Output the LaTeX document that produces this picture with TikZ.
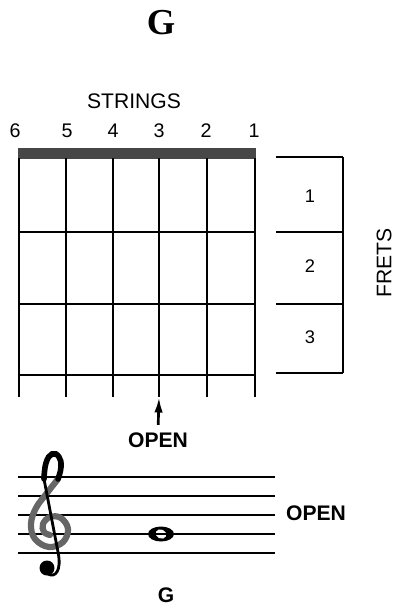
\documentclass[tikz,border=0pt]{standalone}
\usepackage{fontspec}
\setmainfont{Liberation Sans}
\newfontfamily\titlefont{Liberation Serif}
\usetikzlibrary{arrows.meta}

\begin{document}
\begin{tikzpicture}[x=0.025cm, y=-0.025cm, line width=0.9pt,
    numlabel/.style={font=\fontsize{14}{16}\selectfont, inner sep=0pt},
    boldlabel/.style={font=\fontsize{15}{17}\selectfont\bfseries, inner sep=0pt}]
    \useasboundingbox (0,0) rectangle (402,608);

    % Chord name
    \node (title) at (161,23) {\titlefont\fontsize{26}{28}\selectfont\bfseries G};

    % String numbers
    \node[numlabel, font=\fontsize{15}{17}\selectfont] (strings) at (134,101) {STRINGS};
    \foreach \n/\x in {6/15,5/67,4/113,3/159,2/206,1/254} {
        \node[numlabel] (num\n) at (\x,131) {\n};
    }

    % Fretboard
    \fill[black!72] (18,148) rectangle (256,159);
    \foreach \x in {19,66,113,159,207,255} {
        \draw (\x,158) -- (\x,397);
    }
    \foreach \y in {232,304,375} {
        \draw (19,\y) -- (255,\y);
    }

    % Fret numbers
    \foreach \y in {157,232,304,373} {
        \draw (276,\y) -- (343,\y);
    }
    \draw (343,157) -- (343,373);
    \node[numlabel, font=\fontsize{13}{15}\selectfont] (fret1) at (310,196) {1};
    \node[numlabel, font=\fontsize{13}{15}\selectfont] (fret2) at (310,266) {2};
    \node[numlabel, font=\fontsize{13}{15}\selectfont] (fret3) at (310,337) {3};
    \node[numlabel, font=\fontsize{15}{17}\selectfont, rotate=90] (frets) at (384,263) {FRETS};

    % Open string
    \coordinate (tip) at (159,397);
    \node[boldlabel] (open1) at (158,440) {OPEN};
    \draw[-{Latex[length=11pt,width=6pt]}, line width=1.9pt, shorten <=5pt] (open1.north) -- (tip);

    % Whole note
    \fill (161,534) ellipse [x radius=13, y radius=7.5];
    \fill[white, rotate around={-25:(161,534)}] (161,534) ellipse [x radius=5.5, y radius=4.5];

    % Staff
    \foreach \y in {477,496,515,534,553} {
        \draw (18,\y) -- (275,\y);
    }

    % Treble clef
    \draw[line width=4.4pt, black!60, line cap=round]
        plot[smooth, tension=0.65] coordinates {(58,479) (47,493) (36,508) (31,524) (35,539) (49,547) (63,542) (68,529) (61,518) (50,517) (43,524) (44,532) (50,535)};
    \draw[line width=4pt, line cap=round]
        plot[smooth, tension=0.8] coordinates {(44,479) (46,463) (52,454) (59,457) (61,467) (58,479)};
    \draw[line width=2pt] (44,479) -- (58,552) .. controls (62,571) and (55,578) .. (48,574);
    \fill (47,568) circle [radius=7.5];

    % Labels
    \node[boldlabel] (open2) at (316,513) {OPEN};
    \node[boldlabel] (gname) at (166,595) {G};
\end{tikzpicture}
\end{document}
